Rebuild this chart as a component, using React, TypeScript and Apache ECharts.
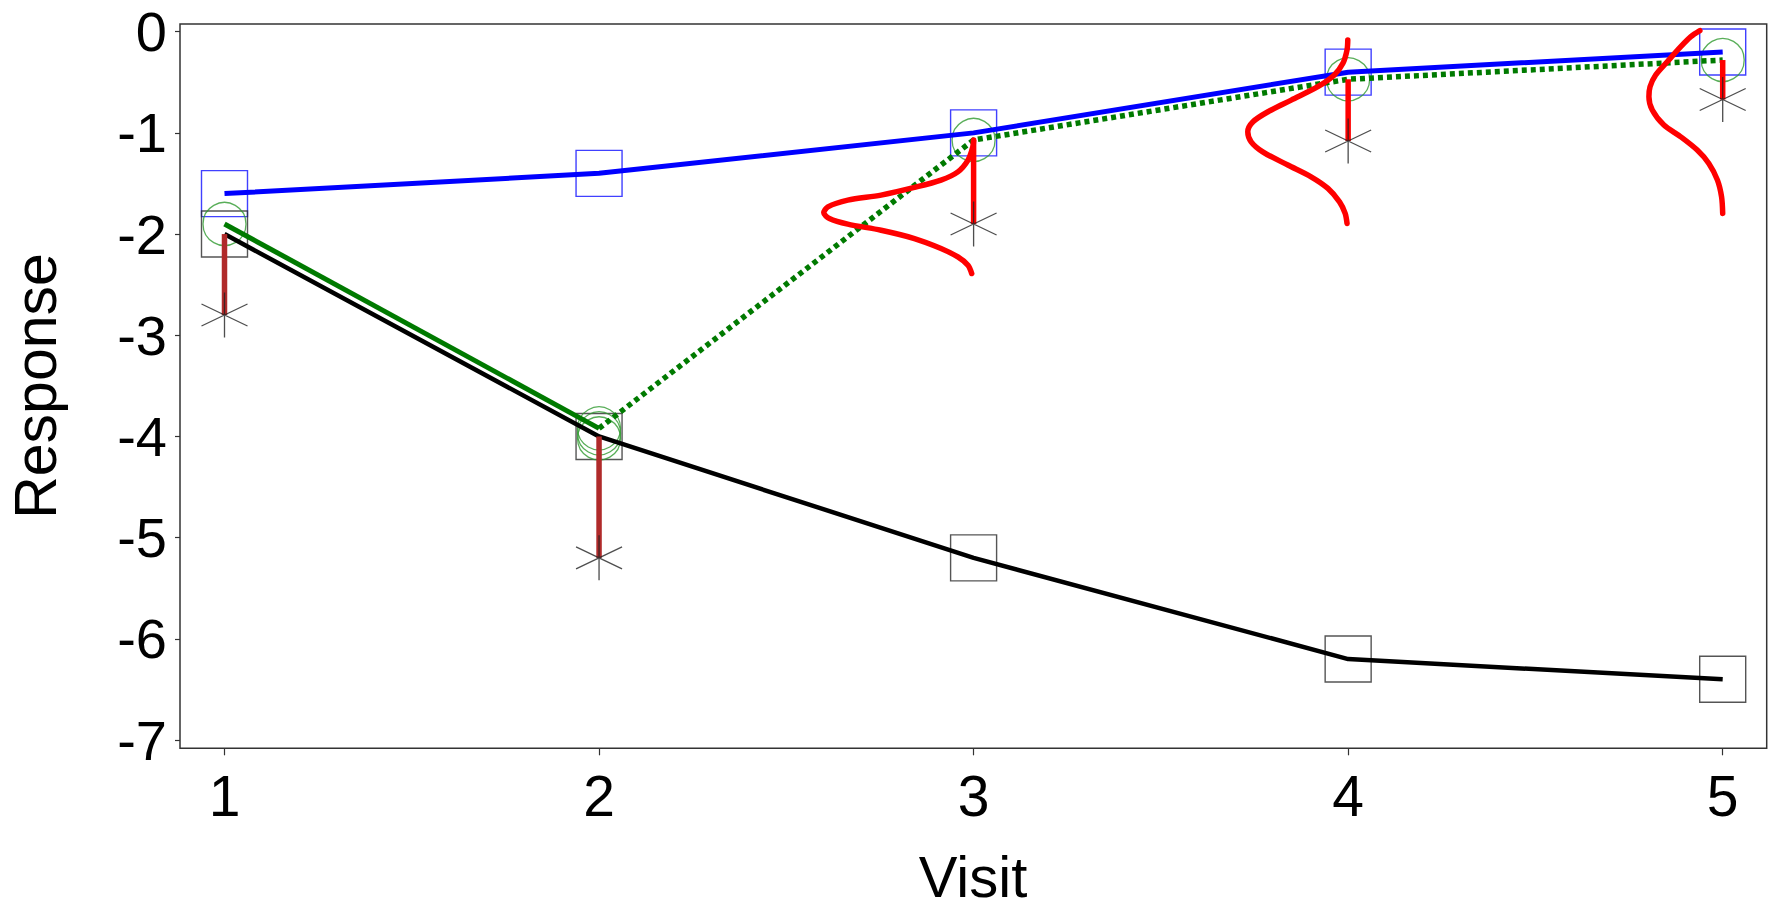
import React, { useEffect, useRef } from "react";
import * as echarts from "echarts";

// ---- data ----
const visits = [1, 2, 3, 4, 5];
const blueMean = [-1.6, -1.4, -1.0, -0.4, -0.2];
const blackMean = [-2.0, -4.0, -5.2, -6.2, -6.4];

const greenObsVisits = [1, 2];
const greenObs = [-1.9, -3.92];
const greenImpVisits = [2, 3, 4, 5];
const greenImp = [-3.92, -1.07, -0.47, -0.28];

const circleVisits = [1, 2, 2, 2, 3, 4, 5];
const circleValues = [-1.9, -3.92, -3.97, -4.02, -1.07, -0.47, -0.28];

const starValues = [-2.8, -5.2, -1.9, -1.08, -0.67];
const stickTop = [-2.0, -4.0, -1.07, -0.47, -0.28];

const dens3Resp = [-1.071, -1.137, -1.269, -1.385, -1.466, -1.539, -1.615, -1.665, -1.731, -1.79, -1.846, -1.902, -1.962, -2.044, -2.142, -2.226, -2.308, -2.39];
const dens3Width = [0, 0.002, 0.015, 0.042, 0.087, 0.158, 0.247, 0.336, 0.389, 0.4, 0.385, 0.336, 0.247, 0.158, 0.087, 0.042, 0.015, 0.005];

const dens4Resp = [-0.082, -0.181, -0.313, -0.428, -0.544, -0.676, -0.791, -0.89, -0.989, -1.088, -1.187, -1.318, -1.434, -1.549, -1.682, -1.796, -1.895];
const dens4Width = [0.001, 0.003, 0.014, 0.037, 0.081, 0.152, 0.214, 0.254, 0.268, 0.259, 0.228, 0.161, 0.099, 0.054, 0.023, 0.008, 0.003];

const dens5Resp = [0.01, -0.049, -0.148, -0.297, -0.428, -0.544, -0.643, -0.774, -0.923, -1.039, -1.17, -1.302, -1.467, -1.632, -1.796];
const dens5Width = [0.061, 0.085, 0.112, 0.148, 0.179, 0.194, 0.197, 0.188, 0.157, 0.112, 0.068, 0.037, 0.014, 0.003, 0.0];

const densities = [
  { visit: 3, resp: dens3Resp, width: dens3Width },
  { visit: 4, resp: dens4Resp, width: dens4Width },
  { visit: 5, resp: dens5Resp, width: dens5Width },
];

const FONT = "Liberation Sans, Arial, sans-serif";
const STAR = "path://M23,0 L23,45 M0,11.5 L46,33.5 M0,33.5 L46,11.5";

export default function App() {
  const ref = useRef<HTMLDivElement>(null);

  useEffect(() => {
    document.body.style.margin = "0";
    if (!ref.current) return;
    const chart = echarts.init(ref.current, undefined, { renderer: "svg" });

    const zip = (xs: number[], ys: number[]) => xs.map((x, i) => [x, ys[i]]);

    const series: any[] = [];

    series.push({
      type: "scatter",
      data: zip(visits, blueMean),
      symbol: "rect",
      symbolSize: 46,
      clip: false,
      itemStyle: { color: "transparent", borderColor: "#1010ff", borderWidth: 1.4 },
      z: 2,
    });
    series.push({
      type: "scatter",
      data: zip(visits, blackMean),
      symbol: "rect",
      symbolSize: 46,
      clip: false,
      itemStyle: { color: "transparent", borderColor: "#2a2a2a", borderWidth: 1.4 },
      z: 2,
    });
    series.push({
      type: "scatter",
      data: zip(circleVisits, circleValues),
      symbol: "circle",
      symbolSize: 43,
      clip: false,
      itemStyle: { color: "transparent", borderColor: "#2f9a2f", borderWidth: 1.3 },
      z: 2,
    });

    series.push({
      type: "line",
      data: zip(visits, blueMean),
      showSymbol: false,
      clip: false,
      lineStyle: { color: "#0000ff", width: 5 },
      z: 3,
    });
    series.push({
      type: "line",
      data: zip(visits, blackMean),
      showSymbol: false,
      clip: false,
      lineStyle: { color: "#000000", width: 4.5 },
      z: 3,
    });
    series.push({
      type: "line",
      data: zip(greenObsVisits, greenObs),
      showSymbol: false,
      clip: false,
      lineStyle: { color: "#007a00", width: 5 },
      z: 4,
    });
    series.push({
      type: "line",
      data: zip(greenImpVisits, greenImp),
      showSymbol: false,
      clip: false,
      lineStyle: { color: "#007a00", width: 5.5, type: [5, 4], cap: "butt" },
      z: 4,
    });

    densities.forEach((d) => {
      series.push({
        type: "line",
        data: d.resp.map((r, i) => [d.visit - d.width[i], r]),
        showSymbol: false,
        smooth: 0.3,
        clip: false,
        lineStyle: { color: "#ff0000", width: 5.5, cap: "round", join: "round" },
        z: 5,
      });
    });

    visits.forEach((v, i) => {
      series.push({
        type: "line",
        data: [
          [v, stickTop[i]],
          [v, starValues[i]],
        ],
        showSymbol: false,
        clip: false,
        lineStyle: { color: v <= 2 ? "#b02a2a" : "#ff0000", width: 5.5, cap: "butt" },
        z: 6,
      });
    });

    series.push({
      type: "scatter",
      data: zip(visits, starValues),
      symbol: STAR,
      symbolSize: [46, 45],
      clip: false,
      itemStyle: { color: "transparent", borderColor: "#222222", borderWidth: 1.3 },
      z: 7,
    });

    chart.setOption({
      animation: false,
      backgroundColor: "#ffffff",
      grid: { left: 224.5, right: 50.3, top: 31.7, bottom: 170, containLabel: false },
      xAxis: {
        type: "value",
        min: 1,
        max: 5,
        interval: 1,
        offset: 8.3,
        position: "bottom",
        splitLine: { show: false },
        axisLine: { show: false, onZero: false },
        axisTick: { show: true, length: 7, lineStyle: { color: "#333", width: 1.2 } },
        axisLabel: { fontSize: 57, color: "#000", fontFamily: FONT, margin: 19 },
      },
      yAxis: {
        type: "value",
        min: -7,
        max: 0,
        interval: 1,
        offset: 44.5,
        position: "left",
        splitLine: { show: false },
        axisLine: { show: false, onZero: false },
        axisTick: { show: true, length: 5, lineStyle: { color: "#333", width: 1.2 } },
        axisLabel: { fontSize: 56, color: "#000", fontFamily: FONT, margin: 13 },
      },
      graphic: [
        {
          type: "rect",
          shape: { x: 180, y: 24, width: 1586.7, height: 724.3 },
          style: { fill: "none", stroke: "#333", lineWidth: 1.5 },
          z: 1,
          silent: true,
        },
        {
          type: "text",
          x: 973,
          y: 876,
          style: {
            text: "Visit",
            font: `58px ${FONT}`,
            fill: "#000",
            align: "center",
            verticalAlign: "middle",
          },
        },
        {
          type: "text",
          x: 36,
          y: 386,
          rotation: Math.PI / 2,
          style: {
            text: "Response",
            font: `59px ${FONT}`,
            fill: "#000",
            align: "center",
            verticalAlign: "middle",
          },
        },
      ],
      series,
    });

    return () => chart.dispose();
  }, []);

  return <div ref={ref} style={{ width: 1773, height: 910 }} />;
}
